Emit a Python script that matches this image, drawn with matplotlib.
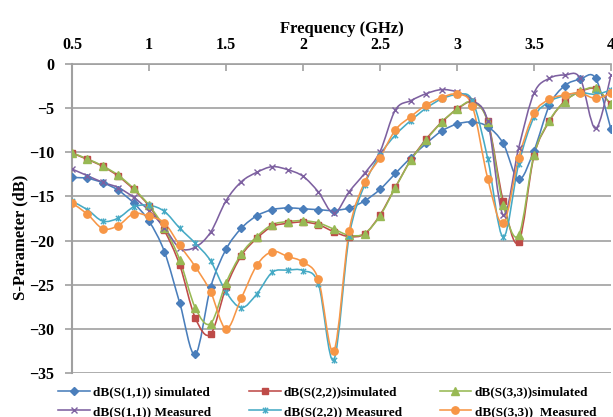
import matplotlib
matplotlib.use('Agg')
import matplotlib.pyplot as plt
from matplotlib.path import Path
from matplotlib.patches import PathPatch
from matplotlib.lines import Line2D
import numpy as np

plt.rcParams['font.family'] = ['Liberation Serif', 'DejaVu Serif']
plt.rcParams['font.weight'] = 'bold'

# frecuencias (GHz), un punto cada 0.1
freq = [0.5, 0.6, 0.7, 0.8, 0.9, 1.0, 1.1, 1.2, 1.3, 1.4, 1.5, 1.6, 1.7, 1.8,
        1.9, 2.0, 2.1, 2.2, 2.3, 2.4, 2.5, 2.6, 2.7, 2.8, 2.9, 3.0, 3.1, 3.2,
        3.3, 3.4, 3.5, 3.6, 3.7, 3.8, 3.9, 4.0]

s11_sim = [-12.85, -12.95, -13.45, -14.3, -15.75, -17.8, -21.25, -27.1, -32.9,
           -25.3, -21.0, -18.6, -17.2, -16.5, -16.3, -16.4, -16.5, -16.6, -16.3,
           -15.5, -14.2, -12.4, -10.6, -9.0, -7.6, -6.8, -6.57, -7.1, -9.0,
           -13.06, -9.8, -4.7, -2.45, -1.73, -1.62, -7.4]
s22_sim = [-10.1, -10.8, -11.6, -12.7, -14.2, -16.1, -18.85, -22.8, -28.75,
           -30.6, -25.3, -21.7, -19.75, -18.4, -18.05, -17.9, -18.2, -19.0, -19.55,
           -19.25, -17.1, -13.96, -10.87, -8.5, -6.6, -5.13, -4.34, -6.5, -15.5,
           -20.2, -10.4, -6.5, -4.2, -3.13, -2.83, -4.57]
s33_sim = [-10.05, -10.75, -11.55, -12.6, -14.1, -16.0, -18.55, -22.2, -27.6,
           -29.4, -24.8, -21.5, -19.55, -18.2, -17.85, -17.75, -18.0, -18.7, -19.4,
           -19.2, -17.2, -14.0, -10.9, -8.6, -6.6, -5.1, -4.3, -6.6, -15.97,
           -19.4, -10.3, -6.4, -4.25, -3.1, -2.75, -4.57]
s11_meas = [-11.9, -12.65, -13.4, -14.0, -15.1, -16.6, -18.55, -20.85, -20.75,
            -19.06, -15.5, -13.33, -12.27, -11.63, -11.97, -12.72, -14.5, -16.9,
            -14.46, -12.38, -9.93, -5.2, -4.15, -3.36, -2.9, -3.17, -4.08, -6.5,
            -17.1, -9.55, -3.3, -1.62, -1.25, -1.62, -7.3, -1.25]
s22_meas = [-15.55, -16.5, -17.8, -17.45, -16.2, -16.0, -16.7, -18.6, -20.3,
            -22.3, -25.8, -27.6, -26.05, -23.6, -23.35, -23.4, -24.9, -33.5,
            -19.5, -13.7, -10.3, -8.04, -6.4, -5.0, -3.96, -3.5, -4.15, -10.76,
            -19.6, -11.36, -6.04, -4.26, -3.58, -3.24, -3.43, -2.95]
s33_meas = [-15.75, -17.0, -18.65, -18.3, -16.95, -17.25, -18.0, -20.55, -22.95,
            -25.8, -30.0, -26.5, -22.8, -21.25, -21.8, -22.45, -24.4, -32.5,
            -18.9, -13.4, -10.6, -7.47, -5.96, -4.64, -3.8, -3.43, -4.8, -13.0,
            -18.05, -10.7, -5.6, -4.0, -3.5, -3.3, -3.9, -3.3]

labels = ['dB(S(1,1)) simulated', 'dB(S(2,2))simulated', 'dB(S(3,3))simulated',
          'dB(S(1,1)) Measured', 'dB(S(2,2)) Measured', 'dB(S(3,3))  Measured']

# marcador tipo "estrella" de Excel (x con barra vertical)
star = Path([(-1, -1), (1, 1), (-1, 1), (1, -1), (0, -1.2), (0, 1.2)],
            [Path.MOVETO, Path.LINETO] * 3)

estilos = [
    (s11_sim, '#4A7EBB', 'D', 3.8, True),
    (s22_sim, '#BE4B48', 's', 4.8, True),
    (s33_sim, '#98B954', '^', 5.2, True),
    (s11_meas, '#7D60A0', 'x', 4.2, False),
    (s22_meas, '#46AAC5', star, 4.5, False),
    (s33_meas, '#F79646', 'o', 5.3, True),
]


def curva_suave(x, y):
    # bezier tipo Excel (catmull-rom) entre los puntos medidos
    p = np.column_stack([x, y])
    n = len(p)
    verts = [p[0]]
    codes = [Path.MOVETO]
    for i in range(n - 1):
        p0 = p[i - 1] if i > 0 else p[i]
        p1, p2 = p[i], p[i + 1]
        p3 = p[i + 2] if i + 2 < n else p[i + 1]
        verts += [p1 + (p2 - p0) / 6, p2 - (p3 - p1) / 6, p2]
        codes += [Path.CURVE4] * 3
    return Path(verts, codes)


fig = plt.figure(figsize=(6.13, 4.17), dpi=100)
ax = fig.add_axes([72 / 613, 1 - 373 / 417, 539 / 613, 309 / 417])

handles = []
for (serie, color, marker, ms, lleno), lab in zip(estilos, labels):
    ax.add_patch(PathPatch(curva_suave(freq, serie), fill=False, edgecolor=color,
                           lw=1.15, transform=ax.transData, zorder=3))
    mfc = color if lleno else 'none'
    ax.plot(freq, serie, linestyle='none', marker=marker, ms=ms, color=color,
            mfc=mfc, mec=color, mew=1.0, zorder=4)
    handles.append(Line2D([], [], color=color, lw=1.15, marker=marker, ms=ms,
                          mfc=mfc, mec=color, mew=1.0, label=lab))

ax.set_xlim(0.5, 4)
ax.set_ylim(-35, 0)
ax.set_xticks([0.5, 1, 1.5, 2, 2.5, 3, 3.5, 4])
ax.set_xticklabels(['0.5', '1', '1.5', '2', '2.5', '3', '3.5', '4'])
ax.set_yticks(range(-35, 1, 5))

ax.xaxis.tick_top()
ax.xaxis.set_label_position('top')
ax.set_xlabel('Frequency (GHz)', fontsize=12, fontweight='bold', labelpad=3)
ax.set_ylabel('S-Parameter (dB)', fontsize=12, fontweight='bold')
ax.yaxis.set_label_coords(-0.08, 0.44)

ax.tick_params(axis='x', direction='in', length=5, color='#a0a0a0', width=1.2,
               labelsize=11.5, pad=8)
ax.tick_params(axis='y', direction='out', length=5, color='#a0a0a0', width=1.2,
               labelsize=11.5, pad=8)

ax.grid(True, axis='y', color='#a0a0a0', lw=1.2)
ax.set_axisbelow(True)
for lado in ['right', 'bottom']:
    ax.spines[lado].set_visible(False)
ax.spines['left'].set_color('#a0a0a0')
ax.spines['left'].set_linewidth(1.5)
ax.spines['top'].set_color('#a0a0a0')
ax.spines['top'].set_linewidth(1.2)

orden = [0, 3, 1, 4, 2, 5]
fig.legend([handles[i] for i in orden], [labels[i] for i in orden],
           ncol=3, loc='upper left', bbox_to_anchor=(53 / 613, 1 - 381 / 417),
           frameon=False, fontsize=9.5, handlelength=2.4, handletextpad=0.25,
           columnspacing=2.85, labelspacing=0.55, borderaxespad=0.0)

fig.savefig('out.png', dpi=100, facecolor='white')
plt.close(fig)
